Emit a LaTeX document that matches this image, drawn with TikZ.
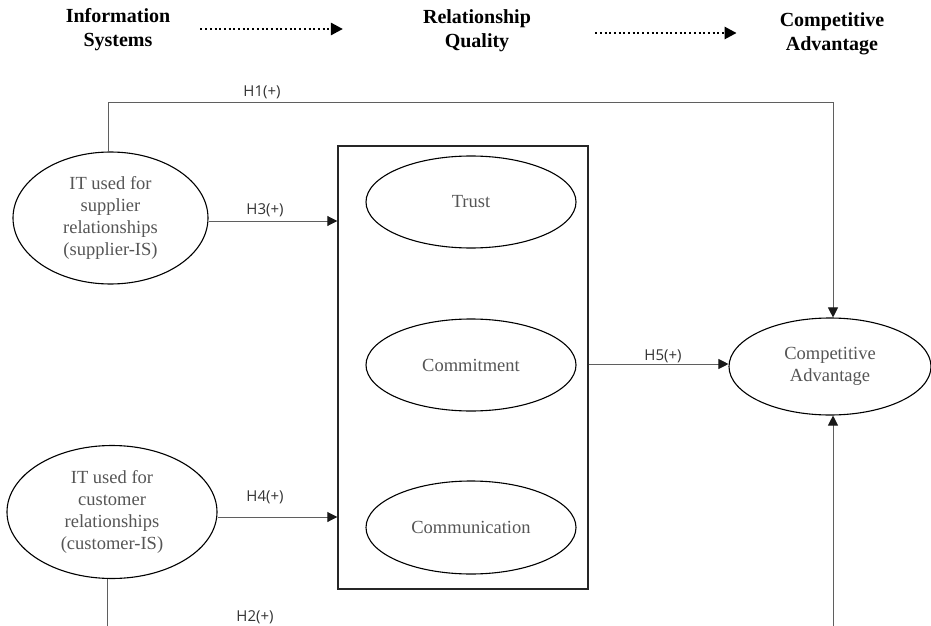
\documentclass[tikz,border=0pt]{standalone}
\usepackage{fontspec}
\setmainfont{Liberation Serif}
\newfontfamily\hypfont{Open Sans}
\usetikzlibrary{
    shapes.geometric,
    arrows.meta,
    positioning,
    calc
}
\definecolor{constructgray}{RGB}{85, 85, 85}
\definecolor{linkgray}{RGB}{95, 95, 95}

\begin{document}
\begin{tikzpicture}[x=1pt, y=1pt,
        construct/.style={ellipse, draw=black, line width=1.1pt, inner sep=0pt, align=center,
            text=constructgray, font=\fontsize{18.5}{21.7}\selectfont},
        header/.style={align=center, inner sep=0pt, font=\fontsize{20}{24}\selectfont\bfseries},
        hyp/.style={inner sep=0pt, text=black!80, font=\hypfont\fontsize{15}{18}\selectfont},
        rqbox/.style={draw=black!85, line width=1.4pt, inner sep=0pt},
        link/.style={draw=linkgray, line width=0.9pt},
        linkarrow/.style={link, -{Triangle[length=10pt, width=10pt, color=black!90]}},
        flow/.style={line width=2.6pt, dash pattern=on 2pt off 2.7pt, -{Triangle[length=12pt, width=12pt]}}
    ]
        \useasboundingbox (0,0) rectangle (931,625);

        % Header row
        \node[header] (hdis) at (118,595) {Information\\Systems};
        \node[header] (hdrq) at (477,594) {Relationship\\Quality};
        \node[header] (hdca) at (832,591) {Competitive\\Advantage};
        \draw[flow] ([xshift=30pt,yshift=1pt]hdis.east) -- ([xshift=-80pt,yshift=1pt]hdis.east -| hdrq.west);
        \draw[flow] ([xshift=64pt,yshift=-2pt]hdrq.east) -- ([xshift=-43pt,yshift=-2pt]hdrq.east -| hdca.west);

        % Relationship quality box
        \node[rqbox, minimum width=250pt, minimum height=443pt] (rq) at (463,257.5) {};
        \node[construct, minimum width=210pt, minimum height=92pt] (trust) at (471,423) {Trust};
        \node[construct, minimum width=210pt, minimum height=92pt] (commit) at (471,260) {Commitment};
        \node[construct, minimum width=210pt, minimum height=93pt] (comm) at (471,97.5) {Communication};

        % IS constructs
        \node[construct, minimum width=195pt, minimum height=132pt] (sup) at (110.5,407)
            {IT used for\\supplier\\relationships\\(supplier-IS)};
        \node[construct, minimum width=210pt, minimum height=133pt] (cus) at (112,113)
            {IT used for\\customer\\relationships\\(customer-IS)};

        % Outcome
        \node[construct, minimum width=202pt, minimum height=97pt] (ca) at (830,258.5)
            {Competitive\\Advantage};

        % Hypothesised paths
        \coordinate (h1top) at (0,523);
        \coordinate (h2low) at (0,-2);
        \draw[linkarrow] ([xshift=-2.5pt]sup.north) |- ([xshift=3pt]h1top -| ca.north) -- ([xshift=3pt]ca.north);
        \draw[linkarrow] ([yshift=-3pt]sup.east) -- ([yshift=-3pt]sup.east -| rq.west);
        \draw[linkarrow] ([yshift=-5pt]cus.east) -- ([yshift=-5pt]cus.east -| rq.west);
        \draw[linkarrow] ([yshift=2.5pt]ca.west -| rq.east) -- ([yshift=2.5pt]ca.west);
        \draw[link] ([xshift=-5pt]cus.south) -- ([xshift=-5pt]cus.south |- h2low);
        \draw[linkarrow] ([xshift=3pt]ca.south |- h2low) -- ([xshift=3pt]ca.south);

        % Path labels
        \node[hyp] (lh1) at (262,533) {H1(+)};
        \node[hyp] (lh3) at (265,415) {H3(+)};
        \node[hyp] (lh4) at (265,128) {H4(+)};
        \node[hyp] (lh5) at (663,269) {H5(+)};
        \node[hyp] (lh2) at (255,7.5) {H2(+)};
    \end{tikzpicture}
\end{document}
